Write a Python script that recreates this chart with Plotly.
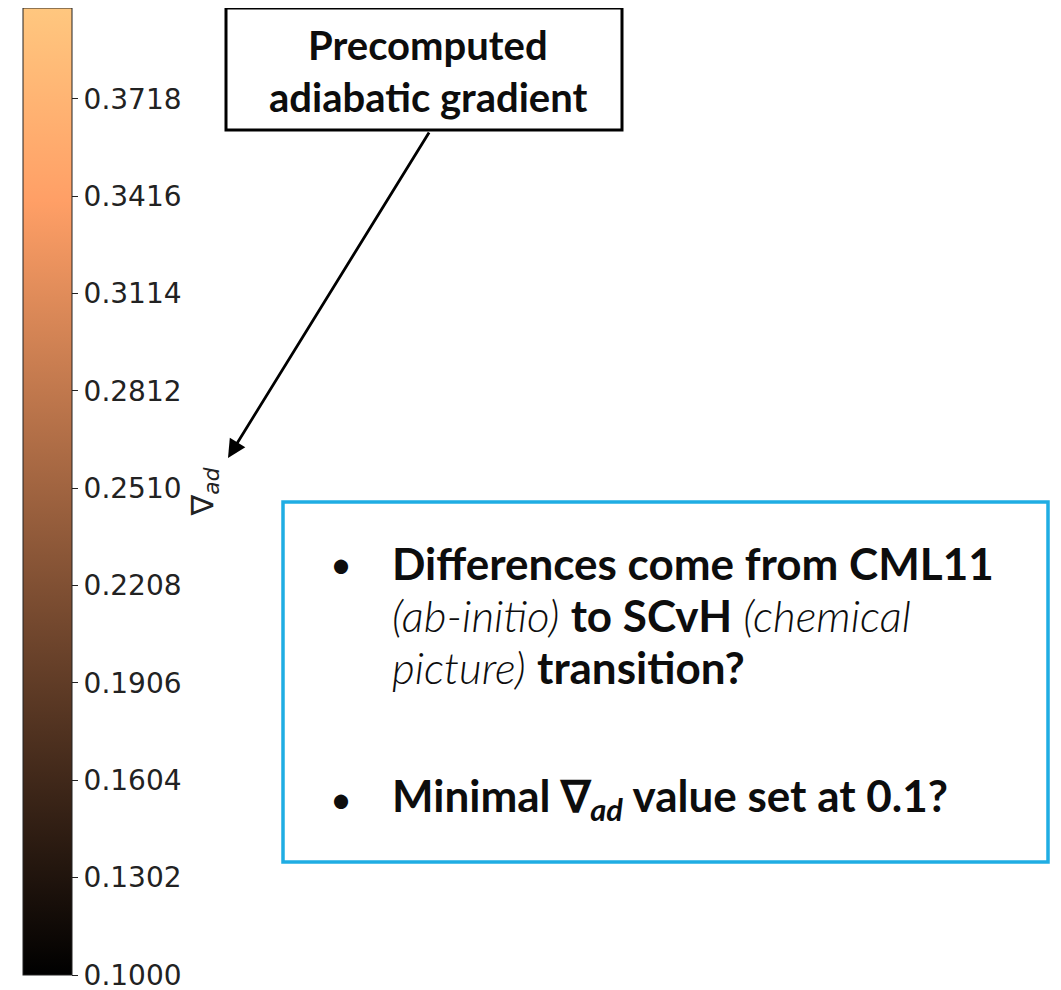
import plotly.graph_objects as go

# colour bar data (nabla_ad)
grad_range = [0.1000, 0.4000]
tick_vals = [0.1000, 0.1302, 0.1604, 0.1906, 0.2208, 0.2510, 0.2812, 0.3114, 0.3416, 0.3718]
tick_text = ["0.1000", "0.1302", "0.1604", "0.1906", "0.2208", "0.2510", "0.2812", "0.3114", "0.3416", "0.3718"]

box_lines = ["Precomputed", "adiabatic gradient"]
bullet_lines = [
    "<b>Differences come from CML11</b>",
    "<span style='font-weight:300'><i>(ab-initio)</i></span> <b>to SCvH</b> <span style='font-weight:300'><i>(chemical</i></span>",
    "<span style='font-weight:300'><i>picture)</i></span> <b>transition?</b>",
    "<b>Minimal \u2207<sub><i>ad</i></sub> value set at 0.1?</b>",
]

# matplotlib "copper"
copper = [[0.0, "rgb(0,0,0)"], [0.8, "rgb(255,159,102)"], [1.0, "rgb(255,199,127)"]]

# the page puts the figure 8px in from the corner, so work in page pixels minus that
OFF = 8
W, H = 1061 - OFF, 990 - OFF
FONT = "Lato"
INK = "#0d0d0d"


def px(v):
    return v - OFF


fig = go.Figure()
# markers sit outside the visible range, only the colour bar is shown
fig.add_trace(go.Scatter(
    x=[-500, -500], y=[-500, -500], mode="markers",
    marker=dict(color=grad_range, cmin=grad_range[0], cmax=grad_range[1], colorscale=copper,
                showscale=True,
                colorbar=dict(
                    x=px(23) / W, xanchor="left", xpad=0,
                    y=1 - px(8) / H, yanchor="top", ypad=0,
                    len=967, lenmode="pixels",
                    thickness=49, thicknessmode="pixels",
                    outlinewidth=1, outlinecolor="#222",
                    tickvals=tick_vals, ticktext=tick_text,
                    ticks="outside", ticklen=6, tickwidth=1, tickcolor="#222",
                    ticklabeloverflow="allow",
                    tickfont=dict(family="DejaVu Sans", size=28, color="#222"),
                    title=dict(text="\u2207<sub><i>ad</i></sub>", side="right",
                               font=dict(family="DejaVu Sans", size=31, color="#222")),
                )),
    hoverinfo="skip", showlegend=False,
))

# precomputed gradient callout
fig.add_shape(type="rect", x0=px(226), x1=px(622), y0=px(8), y1=px(130),
              line=dict(color="black", width=3), fillcolor="white")
for i, t in enumerate(box_lines):
    fig.add_annotation(x=px(428), y=px(45 + 52 * i), text="<b>" + t + "</b>", showarrow=False,
                       xanchor="center", yanchor="middle",
                       font=dict(family=FONT, size=40, color=INK))
fig.add_annotation(x=px(228), y=px(458), ax=px(430), ay=px(131), axref="x", ayref="y", text="",
                   showarrow=True, arrowhead=2, arrowsize=1.3, arrowwidth=2.8, arrowcolor="black")

# question box
fig.add_shape(type="rect", x0=px(283), x1=px(1048), y0=px(502), y1=px(862),
              line=dict(color="#1fade3", width=3.5))
line_y = [563, 615, 667, 798]
for yy in [line_y[0], line_y[3]]:
    fig.add_annotation(x=px(341), y=px(yy), text="\u2022", showarrow=False, xanchor="center",
                       yanchor="middle", font=dict(family=FONT, size=38, color=INK))
for t, yy in zip(bullet_lines, line_y):
    fig.add_annotation(x=px(390), y=px(yy), text=t, showarrow=False, xanchor="left", yanchor="middle",
                       font=dict(family=FONT, size=44, color=INK))

fig.update_xaxes(range=[0, W], visible=False, fixedrange=True)
fig.update_yaxes(range=[H, 0], visible=False, fixedrange=True)
fig.update_layout(width=W, height=H, margin=dict(l=0, r=0, t=0, b=0),
                  paper_bgcolor="white", plot_bgcolor="white")
fig.write_html("out.html")
